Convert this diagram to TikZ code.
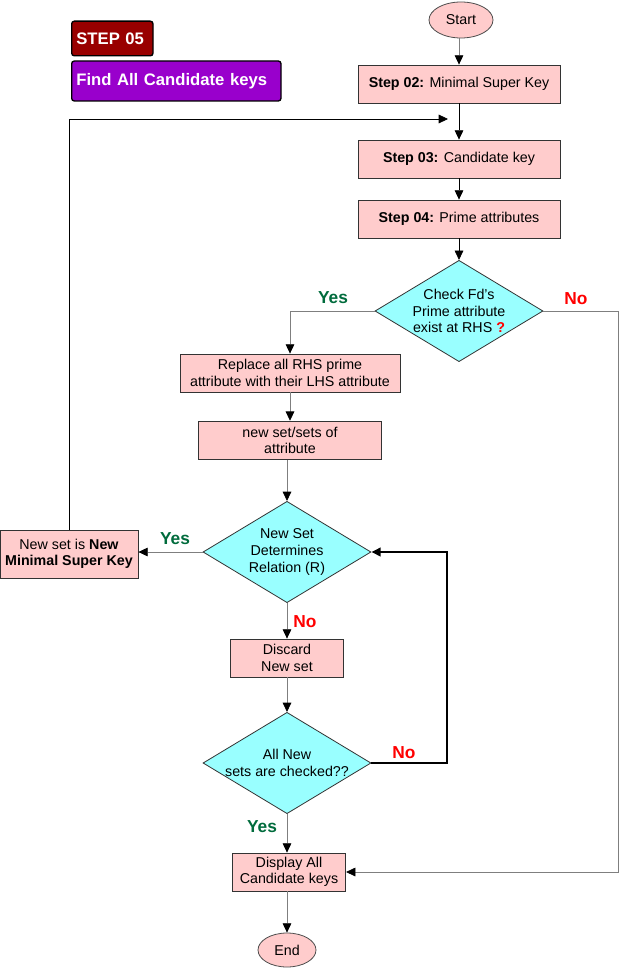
\documentclass[tikz,border=0pt]{standalone}
\usepackage{fontspec}
\setmainfont{Liberation Sans}
\usetikzlibrary{shapes.geometric,arrows.meta}

\definecolor{boxpink}{HTML}{FFCCCC}
\definecolor{diacyan}{HTML}{99FFFF}
\definecolor{stepred}{HTML}{990000}
\definecolor{steppurple}{HTML}{9900CC}
\definecolor{yesgreen}{HTML}{006B3C}
\definecolor{linegray}{HTML}{7F7F7F}

\tikzset{
  procbox/.style={draw=black!80, fill=boxpink, line width=0.6pt, align=center,
    minimum height=28.5pt, inner sep=1pt, font=\fontsize{10.7}{12.4}\selectfont},
  decision/.style={diamond, draw=black!80, fill=diacyan, line width=0.6pt, aspect=1.66,
    inner sep=-3pt, align=center, minimum width=126pt, minimum height=76pt,
    font=\fontsize{10.7}{12.4}\selectfont},
  terminal/.style={ellipse, draw=black!70, fill=boxpink, line width=0.6pt,
    inner sep=0pt, font=\fontsize{10.7}{12}\selectfont},
  titlebox/.style={draw=black, line width=1pt, rounded corners=2pt, anchor=west,
    text=white, inner xsep=3.5pt, align=left, font=\bfseries\fontsize{12.5}{14}\selectfont},
  flow/.style={draw=linegray, line width=0.6pt, -{Triangle[length=7pt,width=6.5pt,color=black]}},
  flowdark/.style={flow, draw=black},
  yeslabel/.style={text=yesgreen, font=\bfseries\fontsize{13}{15}\selectfont},
  nolabel/.style={text=red, font=\bfseries\fontsize{13}{15}\selectfont},
}

\begin{document}
\begin{tikzpicture}[x=0.75pt, y=-0.75pt]
    \useasboundingbox (0,0) rectangle (619,969);

    % titles
    \node[titlebox, fill=stepred, text width=54pt, minimum height=26pt] (steptitle) at (71,38.5) {STEP 05};
    \node[titlebox, fill=steppurple, text width=150pt, minimum height=30pt] (tasktitle) at (71,81) {Find All Candidate keys};

    % main column
    \node[terminal, minimum width=48pt, minimum height=27pt] (start) at (461,20) {Start};
    \node[procbox, minimum width=151.5pt] (step02) at (459,84) {\textbf{Step 02:} Minimal Super Key};
    \node[procbox, minimum width=151.5pt] (step03) at (459,159) {\textbf{Step 03:} Candidate key};
    \node[procbox, minimum width=151.5pt] (step04) at (459,219) {\textbf{Step 04:} Prime attributes};
    \node[decision] (checkfd) at (459,311) {Check Fd’s\\Prime attribute\\exist at RHS \textcolor{red}{\textbf{?}}};

    % left branch
    \node[procbox, minimum width=165pt] (replace) at (290,373) {Replace all RHS prime\\attribute with their LHS attribute};
    \node[procbox, minimum width=137pt, minimum height=29pt] (newset) at (290,440.5) {new set/sets of\\attribute};
    \node[decision] (determines) at (287,552) {New Set\\Determines\\Relation (R)};
    \node[procbox, minimum width=103.5pt, minimum height=36pt] (newkey) at (69,554) {New set is \textbf{New}\\\textbf{Minimal Super Key}};
    \node[procbox, minimum width=85pt] (discard) at (287,658) {Discard\\New set};
    \node[decision] (allchecked) at (287,763) {All New\\sets are checked??};
    \node[procbox, minimum width=85pt] (display) at (289,872) {Display All\\Candidate keys};
    \node[terminal, minimum width=43.5pt, minimum height=25.5pt] (finish) at (287,950) {End};

    % free ends and corners
    \coordinate (loopend) at (448,119);
    \coordinate (nocorner) at (618,311);
    \coordinate (backtop) at (447,552);

    % connectors
    \draw[flow] (start.south -| step02.north) -- (step02.north);
    \draw[flowdark] (step02) -- (step03);
    \draw[flowdark] (step03) -- (step04);
    \draw[flowdark] (step04) -- (checkfd);
    \draw[flow] (checkfd.west) -| (replace.north);
    \draw[flow] (checkfd.east) -- (nocorner) |- (display.east);
    \draw[flow] (replace) -- (newset);
    \draw[flow] (newset.south -| determines.north) -- (determines.north);
    \draw[flow] (determines.west) -- (determines.west -| newkey.east);
    \draw[flowdark] (newkey.north) |- (loopend);
    \draw[flow] (determines) -- (discard);
    \draw[flow] (discard) -- (allchecked);
    \draw[flowdark, line width=1.5pt] (allchecked.east) -| (backtop) -- (determines.east);
    \draw[flow] (allchecked.south) -- (allchecked.south |- display.north);
    \draw[flow] (display.south -| finish.north) -- (finish.north);

    % branch labels
    \node[yeslabel] (yes1) at (333,298) {Yes};
    \node[nolabel] (no1) at (576,299) {No};
    \node[yeslabel] (yes2) at (175,539) {Yes};
    \node[nolabel] (no2) at (305,622) {No};
    \node[nolabel] (no3) at (404,753) {No};
    \node[yeslabel] (yes3) at (262,827) {Yes};
\end{tikzpicture}
\end{document}
